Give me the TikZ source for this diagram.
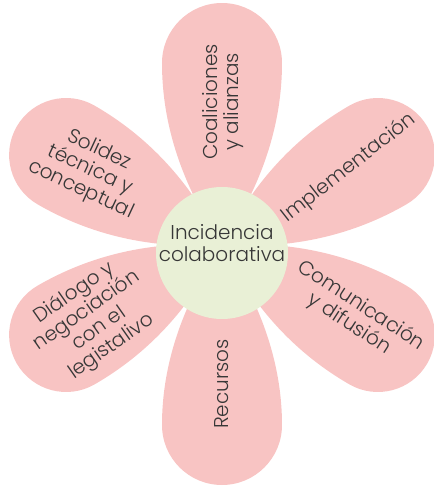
\documentclass[tikz,border=0pt]{standalone}
\usepackage{fontspec}
\setmainfont{Poppins}[UprightFont=* Light]
\definecolor{petalpink}{RGB}{248,196,195}
\definecolor{hubgreen}{RGB}{233,240,214}
\definecolor{inkgray}{RGB}{55,55,55}
\tikzset{
  petal/.style={fill=petalpink},
  hub/.style={circle, fill=hubgreen, minimum size=79.2pt, inner sep=0pt},
  petaltext/.style={text=inkgray, align=center, inner sep=0pt,
    font=\fontsize{12}{13}\selectfont}
}
\begin{document}
\begin{tikzpicture}[x=0.6pt,y=0.6pt]
  \useasboundingbox (-222,-244) rectangle (212,245);
  % petals
  \foreach \ang/\d/\r in {90/182/60, 270/180/60, 30/180/57, -30/180/57, 150/180/57, 210/180/57}
    \fill[petal, rotate=\ang] (0,0) .. controls (60,-40) and (120,-\r) .. (\d,-\r)
      arc[start angle=-90, end angle=90, radius=\r]
      .. controls (120,\r) and (60,40) .. (0,0);
  % centre
  \node[hub] (hub) at (0,-8) {};
  \node[petaltext] (inci) at (0,2) {Incidencia\\colaborativa};
  % petal labels
  \node[petaltext, rotate=90] (coal) at (1,143) {Coaliciones\\y alianzas};
  \node[petaltext, rotate=38] (impl) at (127,77) {Implementación};
  \node[petaltext, rotate=-33] (comu) at (133,-70) {Comunicación\\y difusión};
  \node[petaltext, rotate=90] (recu) at (0,-139) {Recursos};
  \node[petaltext, rotate=35] (dial) at (-129,-75) {Diálogo y\\negociación\\con el\\legistalivo};
  \node[petaltext, rotate=-25] (soli) at (-132,75) {Solidez\\técnica y\\conceptual};
\end{tikzpicture}
\end{document}
